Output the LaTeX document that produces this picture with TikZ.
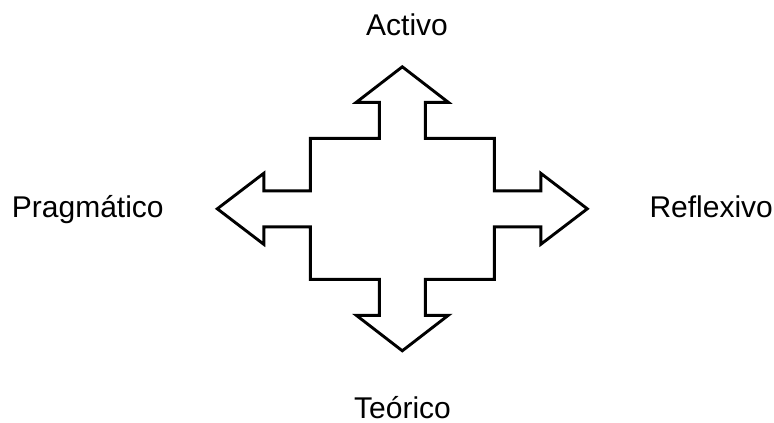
\documentclass[tikz,border=0pt]{standalone}
\usepackage{fontspec}
\setmainfont{Liberation Sans}

\begin{document}
\begin{tikzpicture}[x=1pt,y=-1pt,
    etiqueta/.style={font=\fontsize{30}{36}\selectfont, anchor=base, inner sep=0pt},
    contorno/.style={line width=2.9pt, line join=miter}]
\useasboundingbox (0,0) rectangle (774,423);
\coordinate (centro) at (402.3,208.8);
% cruz con cuatro flechas
\begin{scope}[shift={(centro)}]
    \draw[contorno] (-23,-70.5) -- (-23,-106.5) -- (-46,-106.5) -- (0,-142) -- (46,-106.5) -- (23,-106.5) -- (23,-70.5)
        -- (92,-70.5) -- (92,-18) -- (138.5,-18) -- (138.5,-35.5) -- (185,0) -- (138.5,35.5) -- (138.5,18) -- (92,18)
        -- (92,70.5) -- (23,70.5) -- (23,106.5) -- (46,106.5) -- (0,142) -- (-46,106.5) -- (-23,106.5) -- (-23,70.5)
        -- (-92,70.5) -- (-92,18) -- (-138.5,18) -- (-138.5,35.5) -- (-185,0) -- (-138.5,-35.5) -- (-138.5,-18) -- (-92,-18)
        -- (-92,-70.5) -- cycle;
\end{scope}
% estilos de aprendizaje
\node[etiqueta] (activo) at (407,35) {Activo};
\node[etiqueta, anchor=base west] (pragmatico) at (11.7,217) {Pragmático};
\node[etiqueta, anchor=base west] (reflexivo) at (649.3,217) {Reflexivo};
\node[etiqueta] (teorico) at (402.5,418.3) {Teórico};
\end{tikzpicture}
\end{document}
